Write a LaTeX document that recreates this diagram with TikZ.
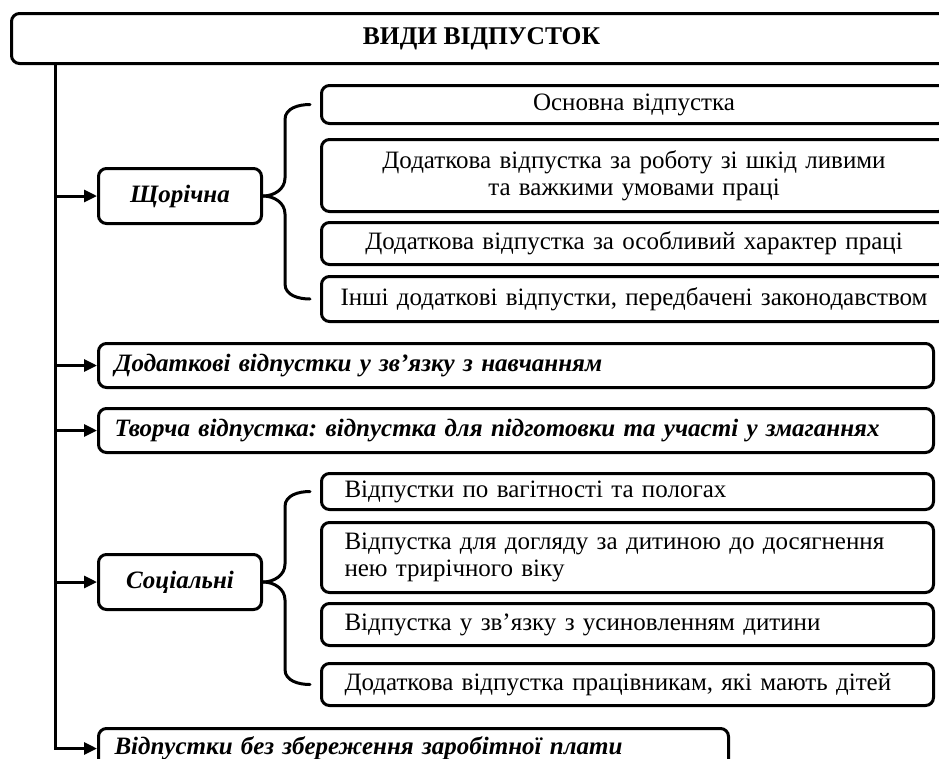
\documentclass[tikz,border=0pt]{standalone}
\usepackage{fontspec}
\setmainfont{Liberation Serif}
\usetikzlibrary{arrows.meta,positioning}
\frenchspacing

\tikzset{
  box/.style={draw,line width=3pt,rounded corners=8pt,inner sep=0pt,anchor=north west},
  headbox/.style={box,font=\bfseries\fontsize{25.5}{28}\selectfont,minimum height=50pt,minimum width=940pt},
  grpbox/.style={box,font=\bfseries\itshape\fontsize{25}{28}\selectfont},
  kindbox/.style={grpbox,minimum width=163pt,minimum height=55pt},
  longbox/.style={grpbox,align=left,inner xsep=16pt,minimum height=44pt},
  subbox/.style={box,font=\fontsize{25}{27}\selectfont,align=center,text width=625pt},
  socbox/.style={box,font=\fontsize{25}{27}\selectfont,align=left,inner xsep=23pt,text width=566pt},
  arr/.style={-{Triangle[length=13pt,width=12pt]},line width=3pt},
  brace/.style={line width=3pt,line cap=round},
}

\begin{document}
\begin{tikzpicture}[x=1pt,y=-1pt]
  \useasboundingbox (0,0) rectangle (939,758);

  % title
  \node[headbox] (vydy) at (10,12) {ВИДИ ВІДПУСТОК};
  \coordinate (tr) at (55,0);

  % groups
  \node[kindbox] (shor) at (97,167) {Щорічна};
  \node[longbox,text width=803pt] (navch) at (97,342) {Додаткові відпустки у зв’язку з навчанням};
  \node[longbox,text width=803pt] (tvor) at (97,407) {Творча відпустка: відпустка для підготовки та участі у змаганнях};
  \node[kindbox] (soc) at (97,553) {Соціальні};
  \node[longbox,text width=598pt,minimum height=40pt] (bez) at (97,727) {Відпустки без збереження заробітної плати};

  % annual leave kinds
  \node[subbox,minimum height=38pt] (a1) at (320,84) {Основна відпустка};
  \node[subbox,minimum height=72pt] (a2) at (320,138) {Додаткова відпустка за роботу зі шкід ливими\\ та важкими умовами праці};
  \node[subbox,minimum height=42pt] (a3) at (320,221) {Додаткова відпустка за особливий характер праці};
  \node[subbox,minimum height=45pt] (a4) at (320,275) {Інші додаткові відпустки, передбачені законодавством};

  % social leave kinds
  \node[socbox,minimum height=36pt] (b1) at (320,472) {Відпустки по вагітності та пологах};
  \node[socbox,minimum height=70pt] (b2) at (320,521) {Відпустка для догляду за дитиною до досягнення\\нею трирічного віку};
  \node[socbox,minimum height=42pt] (b3) at (320,602) {Відпустка у зв’язку з усиновленням дитини};
  \node[socbox,minimum height=42pt] (b4) at (320,662) {Додаткова відпустка працівникам, які мають дітей};

  % trunk and arrows
  \draw[arr] (vydy.south -| tr) |- (bez.west);
  \foreach \g in {shor,navch,tvor,soc}
    \draw[arr] (tr |- \g.west) -- (\g.west);

  % braces
  \coordinate (bx) at (285,0);
  \draw[brace] (shor.east) to[out=0,in=-90] ([yshift=18pt]bx |- shor.east)
    -- ([yshift=-15pt]bx |- a1.west) to[out=90,in=180] ([xshift=-10pt]a1.west);
  \draw[brace] (shor.east) to[out=0,in=90] ([yshift=-18pt]bx |- shor.east)
    -- ([yshift=15pt]bx |- a4.west) to[out=-90,in=180] ([xshift=-10pt]a4.west);
  \draw[brace] (soc.east) to[out=0,in=-90] ([yshift=18pt]bx |- soc.east)
    -- ([yshift=-15pt]bx |- b1.west) to[out=90,in=180] ([xshift=-10pt]b1.west);
  \draw[brace] (soc.east) to[out=0,in=90] ([yshift=-18pt]bx |- soc.east)
    -- ([yshift=15pt]bx |- b4.west) to[out=-90,in=180] ([xshift=-10pt]b4.west);
\end{tikzpicture}
\end{document}
